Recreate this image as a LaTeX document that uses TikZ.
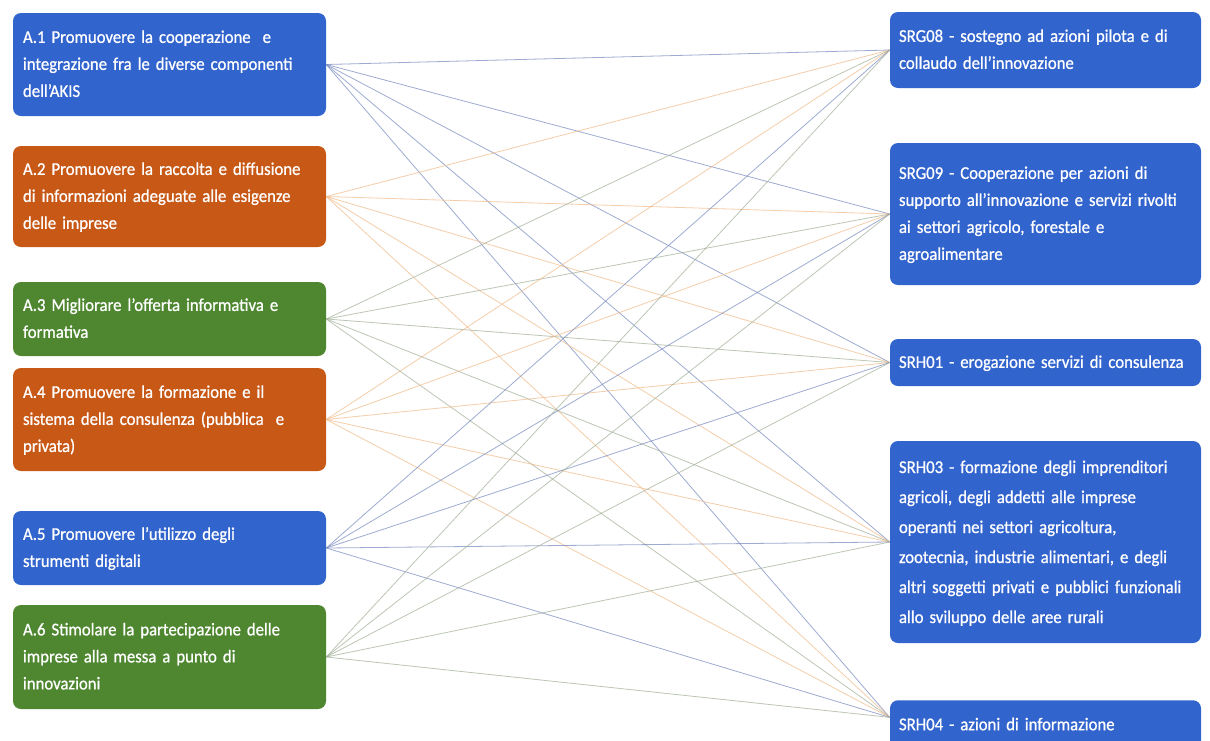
\documentclass[tikz,border=0pt]{standalone}
\usepackage{fontspec}
\setmainfont[FakeStretch=0.93,FakeBold=0.8]{Carlito}
\definecolor{bxblue}{RGB}{50,100,205}
\definecolor{bxorange}{RGB}{200,88,22}
\definecolor{bxgreen}{RGB}{78,135,48}
\definecolor{lnblue}{RGB}{118,136,190}
\definecolor{lnorange}{RGB}{240,185,135}
\definecolor{lngreen}{RGB}{160,174,150}
\newcommand\boxlines[1]{\begin{tabular}{@{}l@{}}#1\end{tabular}}
\begin{document}
\begin{tikzpicture}[x=0.75pt,y=-0.75pt,
  box/.style={rounded corners=6pt, text=white, align=left, inner ysep=0pt,
    font=\fontsize{13.5}{20.25}\selectfont},
  lbox/.style={box, minimum width=234.75pt, text width=219.75pt, inner xsep=7.5pt},
  rbox/.style={box, fill=bxblue, minimum width=233.25pt, text width=219.75pt, inner xsep=6.75pt},
  conn/.style={line width=0.6pt, opacity=0.7}
]
\useasboundingbox (0,0) rectangle (1210,740);
\fill[white] (0,0) rectangle (1210,740);
\clip (0,0) rectangle (1210,740);

% left boxes
\node[lbox, fill=bxblue, minimum height=77.25pt] (a1) at (169.5,64.5)
  {\boxlines{A.1 Promuovere la cooperazione \ e\\integrazione fra le diverse componenti\\dell'AKIS}};
\node[lbox, fill=bxorange, minimum height=75.75pt] (a2) at (169.5,196.5)
  {\boxlines{A.2 Promuovere la raccolta e diffusione\\di informazioni adeguate alle esigenze\\delle imprese}};
\node[lbox, fill=bxgreen, minimum height=55.5pt] (a3) at (169.5,319)
  {\boxlines{A.3 Migliorare l’offerta informativa e\\formativa}};
\node[lbox, fill=bxorange, minimum height=77.25pt] (a4) at (169.5,419.5)
  {\boxlines{A.4 Promuovere la formazione e il\\sistema della consulenza (pubblica \ e\\privata)}};
\node[lbox, fill=bxblue, minimum height=55.5pt] (a5) at (169.5,548)
  {\boxlines{A.5 Promuovere l’utilizzo degli\\strumenti digitali}};
\node[lbox, fill=bxgreen, minimum height=78pt] (a6) at (169.5,657)
  {\boxlines{A.6 Stimolare la partecipazione delle\\imprese alla messa a punto di\\innovazioni}};

% right boxes
\node[rbox, minimum height=57pt] (s1) at (1045.5,50)
  {\boxlines{SRG08 - sostegno ad azioni pilota e di\\collaudo dell'innovazione}};
\node[rbox, minimum height=106.5pt] (s2) at (1045.5,214)
  {\boxlines{SRG09 - Cooperazione per azioni di\\supporto all'innovazione e servizi rivolti\\ai settori agricolo, forestale e\\agroalimentare}};
\node[rbox, minimum height=35.25pt] (s3) at (1045.5,362.5)
  {\boxlines{SRH01 - erogazione servizi di consulenza}};
\node[rbox, minimum height=151.5pt, font=\fontsize{13.5}{22.5}\selectfont] (s4) at (1045.5,542)
  {\boxlines{SRH03 - formazione degli imprenditori\\agricoli, degli addetti alle imprese\\operanti nei settori agricoltura,\\zootecnia, industrie alimentari, e degli\\altri soggetti privati e pubblici funzionali\\allo sviluppo delle aree rurali}};
\node[rbox, anchor=north, inner ysep=8.3pt] (s5) at (1045.5,700)
  {\boxlines{SRH04 - azioni di informazione}};

\coordinate (s1in) at (s1.west);
\coordinate (s2in) at (s2.west);
\coordinate (s3in) at (s3.west);
\coordinate (s4in) at (s4.west);
\coordinate (s5in) at ([yshift=5.6pt]s5.west);

% connectors
\foreach \a/\c in {a1/lnblue,a2/lnorange,a3/lngreen,a4/lnorange,a5/lnblue,a6/lngreen}
  \foreach \s in {s1in,s2in,s3in,s4in,s5in}
    \draw[conn, draw=\c] (\a.east) -- (\s);
\end{tikzpicture}
\end{document}
